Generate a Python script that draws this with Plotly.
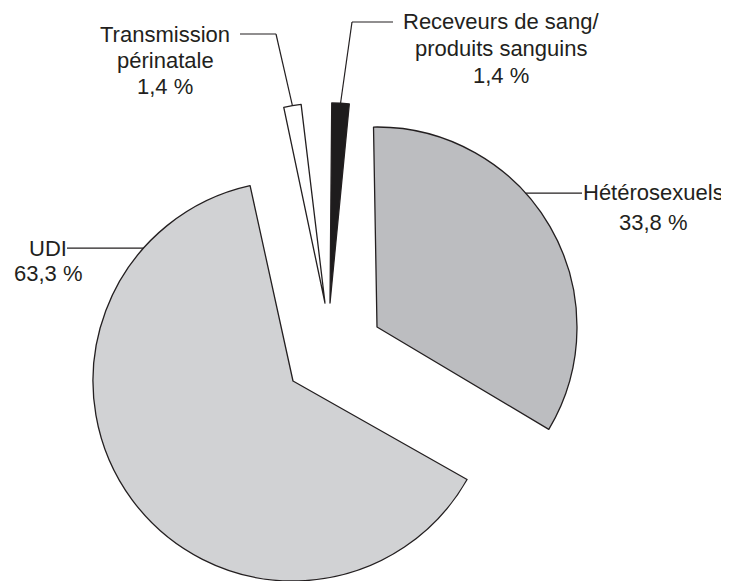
import math
import plotly.graph_objects as go

# ---------------- data ----------------
categories = ["Receveurs de sang/produits sanguins", "Hétérosexuels", "UDI", "Transmission périnatale"]
label_lines = [["Receveurs de sang/", "produits sanguins"], ["Hétérosexuels"], ["UDI"], ["Transmission", "périnatale"]]
values = [1.4, 33.8, 63.3, 1.4]
value_labels = ["1,4 %", "33,8 %", "63,3 %", "1,4 %"]

# ---------------- style / layout ----------------
WIN_W, WIN_H = 729, 581
OFF = 8  # page body margin: figure starts 8 px from window corner
W, H = WIN_W - OFF, WIN_H - OFF
R = 200
fills = ["#1e1c1d", "#bcbdc0", "#d1d2d4", "#ffffff"]
outline = "#231f20"
text_color = "#231f20"
FONT = "Liberation Sans, Arial, sans-serif"
FS = 22

# exploded wedge apex (window pixels) and start angle (deg, clockwise from 12 o'clock)
apex = [(330, 303), (377, 327), (293, 381), (325, 303)]
start_deg = [0.5, -1.0, 119.5, -11.9]

# label blocks (window pixels): centre x, y of first line, line spacing
label_pos = [(501, 22, 26.5), (653, 192, 30), (48, 248, 25), (165, 34, 26)]
# leader lines: angle on arc of anchor, elbow point(s), end point
leader = [
    dict(ang="mid", pts=[(352, 22), (393, 22)]),
    dict(ang=48.0, pts=[(582, None)]),
    dict(ang=311.6, pts=[(67, None)]),
    dict(ang="mid", pts=[(276, 34), (240, 34)]),
]


def px(x, y):
    """window pixel -> paper coords"""
    return (x - OFF) / W, 1 - (y - OFF) / H


total = sum(values)
cum = [sum(values[:i]) / total * 360 for i in range(len(values))]
span = [v / total * 360 for v in values]

fig = go.Figure()
n = len(values)
for i in range(n):
    cx, cy = apex[i][0] - OFF, apex[i][1] - OFF
    rot = start_deg[i] - cum[i]
    rot = (rot + 180) % 360 - 180
    fig.add_trace(go.Pie(
        labels=categories,
        values=values,
        sort=False,
        direction="clockwise",
        rotation=rot,
        textinfo="none",
        hoverinfo=["label+percent" if j == i else "none" for j in range(n)],
        marker=dict(
            colors=[fills[i] if j == i else "rgba(0,0,0,0)" for j in range(n)],
            line=dict(color=outline, width=[1.3 if j == i else 0 for j in range(n)]),
        ),
        domain=dict(
            x=[max(0, (cx - R) / W), min(1, (cx + R) / W)],
            y=[max(0, 1 - (cy + R) / H), min(1, 1 - (cy - R) / H)],
        ),
        showlegend=False,
    ))

shapes = []
annotations = []
for i in range(n):
    cx, cy = apex[i]
    a = leader[i]["ang"]
    if a == "mid":
        a = start_deg[i] + span[i] / 2
    ar = math.radians(a)
    p0 = (cx + R * math.sin(ar), cy - R * math.cos(ar))
    pts = [p0]
    for (x, y) in leader[i]["pts"]:
        pts.append((x, p0[1] if y is None else y))
    for (xa, ya), (xb, yb) in zip(pts[:-1], pts[1:]):
        x0, y0 = px(xa, ya)
        x1, y1 = px(xb, yb)
        shapes.append(dict(type="line", xref="paper", yref="paper", x0=x0, y0=y0, x1=x1, y1=y1,
                           line=dict(color=outline, width=1.2)))
    lx, ly, ls = label_pos[i]
    for k, t in enumerate(label_lines[i] + [value_labels[i]]):
        ax, ay = px(lx, ly + k * ls)
        annotations.append(dict(text=t, x=ax, y=ay, xref="paper", yref="paper", showarrow=False,
                                xanchor="center", yanchor="middle",
                                font=dict(family=FONT, size=FS, color=text_color)))

fig.update_layout(
    width=W, height=H,
    margin=dict(l=0, r=0, t=0, b=0),
    paper_bgcolor="white", plot_bgcolor="white",
    shapes=shapes, annotations=annotations,
    showlegend=False,
)
fig.write_html("out.html")
